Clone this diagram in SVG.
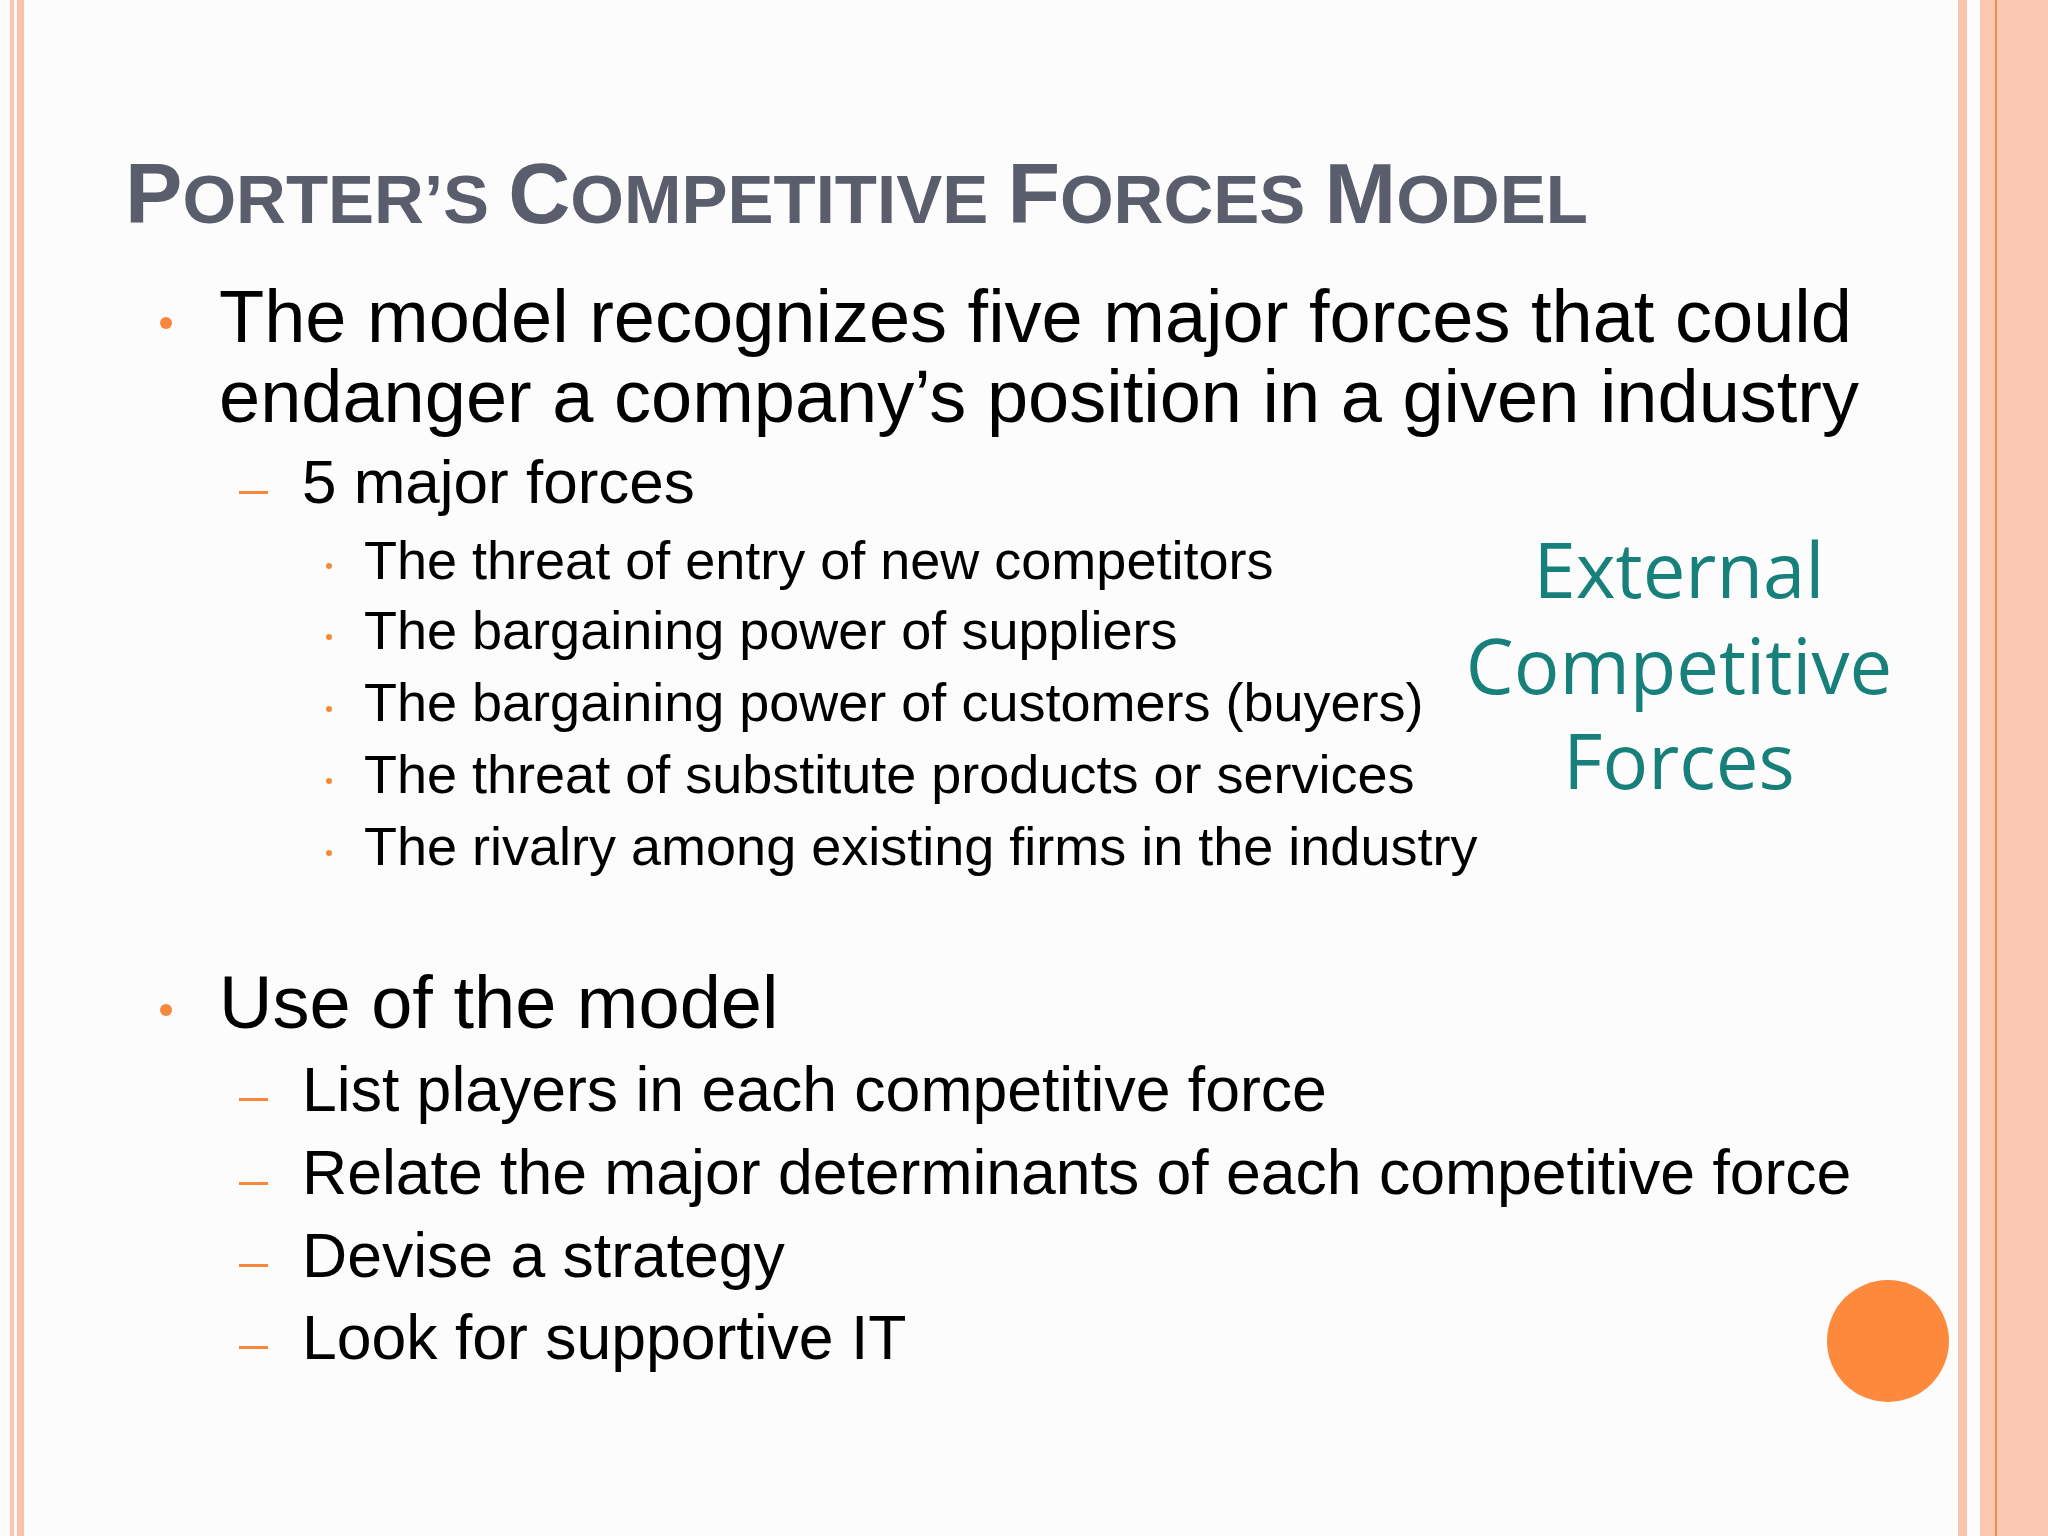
<svg xmlns="http://www.w3.org/2000/svg" width="2048" height="1536" viewBox="0 0 2048 1536">
<style>
.t{font-family:"Liberation Sans",Arial,sans-serif;fill:#000}
.b{fill:#f7883b}
.ext{font-family:"Open Sans","Noto Sans",sans-serif;fill:#17807a;font-size:76px;text-anchor:middle}
</style>
<rect width="2048" height="1536" fill="#fbfcfb"/>
<g id="frame">
<rect x="10" y="0" width="4" height="1536" fill="#fbc5b2"/>
<rect x="17" y="0" width="7" height="1536" fill="#fbc1ab"/>
<rect x="1958" y="0" width="9" height="1536" fill="#fcc3ad"/>
<rect x="1980" y="0" width="68" height="1536" fill="#fcc8b1"/>
<rect x="1995" y="0" width="2" height="1536" fill="#f48a4e"/>
<rect x="2012" y="0" width="36" height="1536" fill="#fbc9b2"/>
</g>
<g id="title">
<text x="125" y="223" font-family="Liberation Sans,Arial,sans-serif" font-weight="bold" fill="#5a5d6c" font-size="86">P<tspan font-size="69">ORTER’S </tspan>C<tspan font-size="69">OMPETITIVE </tspan>F<tspan font-size="69">ORCES </tspan>M<tspan font-size="69">ODEL</tspan></text>
</g>
<g id="bullets">
<circle class="b" cx="166" cy="323" r="6"/>
<text class="t" x="219" y="342" font-size="74">The model recognizes five major forces that could</text>
<text class="t" x="219" y="422" font-size="74">endanger a company’s position in a given industry</text>
<rect class="b" x="239" y="491" width="29" height="3"/>
<text class="t" x="302" y="503" font-size="62">5 major forces</text>
<circle class="b" cx="329" cy="566" r="3"/>
<text class="t" x="364" y="579" font-size="54">The threat of entry of new competitors</text>
<circle class="b" cx="329" cy="637" r="3"/>
<text class="t" x="364" y="649" font-size="54">The bargaining power of suppliers</text>
<circle class="b" cx="329" cy="709" r="3"/>
<text class="t" x="364" y="721" font-size="54">The bargaining power of customers (buyers)</text>
<circle class="b" cx="329" cy="781" r="3"/>
<text class="t" x="364" y="793" font-size="54">The threat of substitute products or services</text>
<circle class="b" cx="329" cy="853" r="3"/>
<text class="t" x="364" y="865" font-size="54">The rivalry among existing firms in the industry</text>
<circle class="b" cx="166" cy="1010" r="6"/>
<text class="t" x="219" y="1028" font-size="74">Use of the model</text>
<rect class="b" x="239" y="1098" width="29" height="3"/>
<text class="t" x="302" y="1111" font-size="62.5">List players in each competitive force</text>
<rect class="b" x="239" y="1182" width="29" height="3"/>
<text class="t" x="302" y="1194" font-size="62.5">Relate the major determinants of each competitive force</text>
<rect class="b" x="239" y="1264" width="29" height="3"/>
<text class="t" x="302" y="1277" font-size="62.5">Devise a strategy</text>
<rect class="b" x="239" y="1346" width="29" height="3"/>
<text class="t" x="302" y="1359" font-size="62.5">Look for supportive IT</text>
</g>
<g id="external">
<text class="ext" x="1679" y="598">External</text>
<text class="ext" x="1679" y="694">Competitive</text>
<text class="ext" x="1679" y="789">Forces</text>
</g>
<circle id="dot" cx="1888" cy="1341" r="61" fill="#fd8a3c"/>
</svg>
